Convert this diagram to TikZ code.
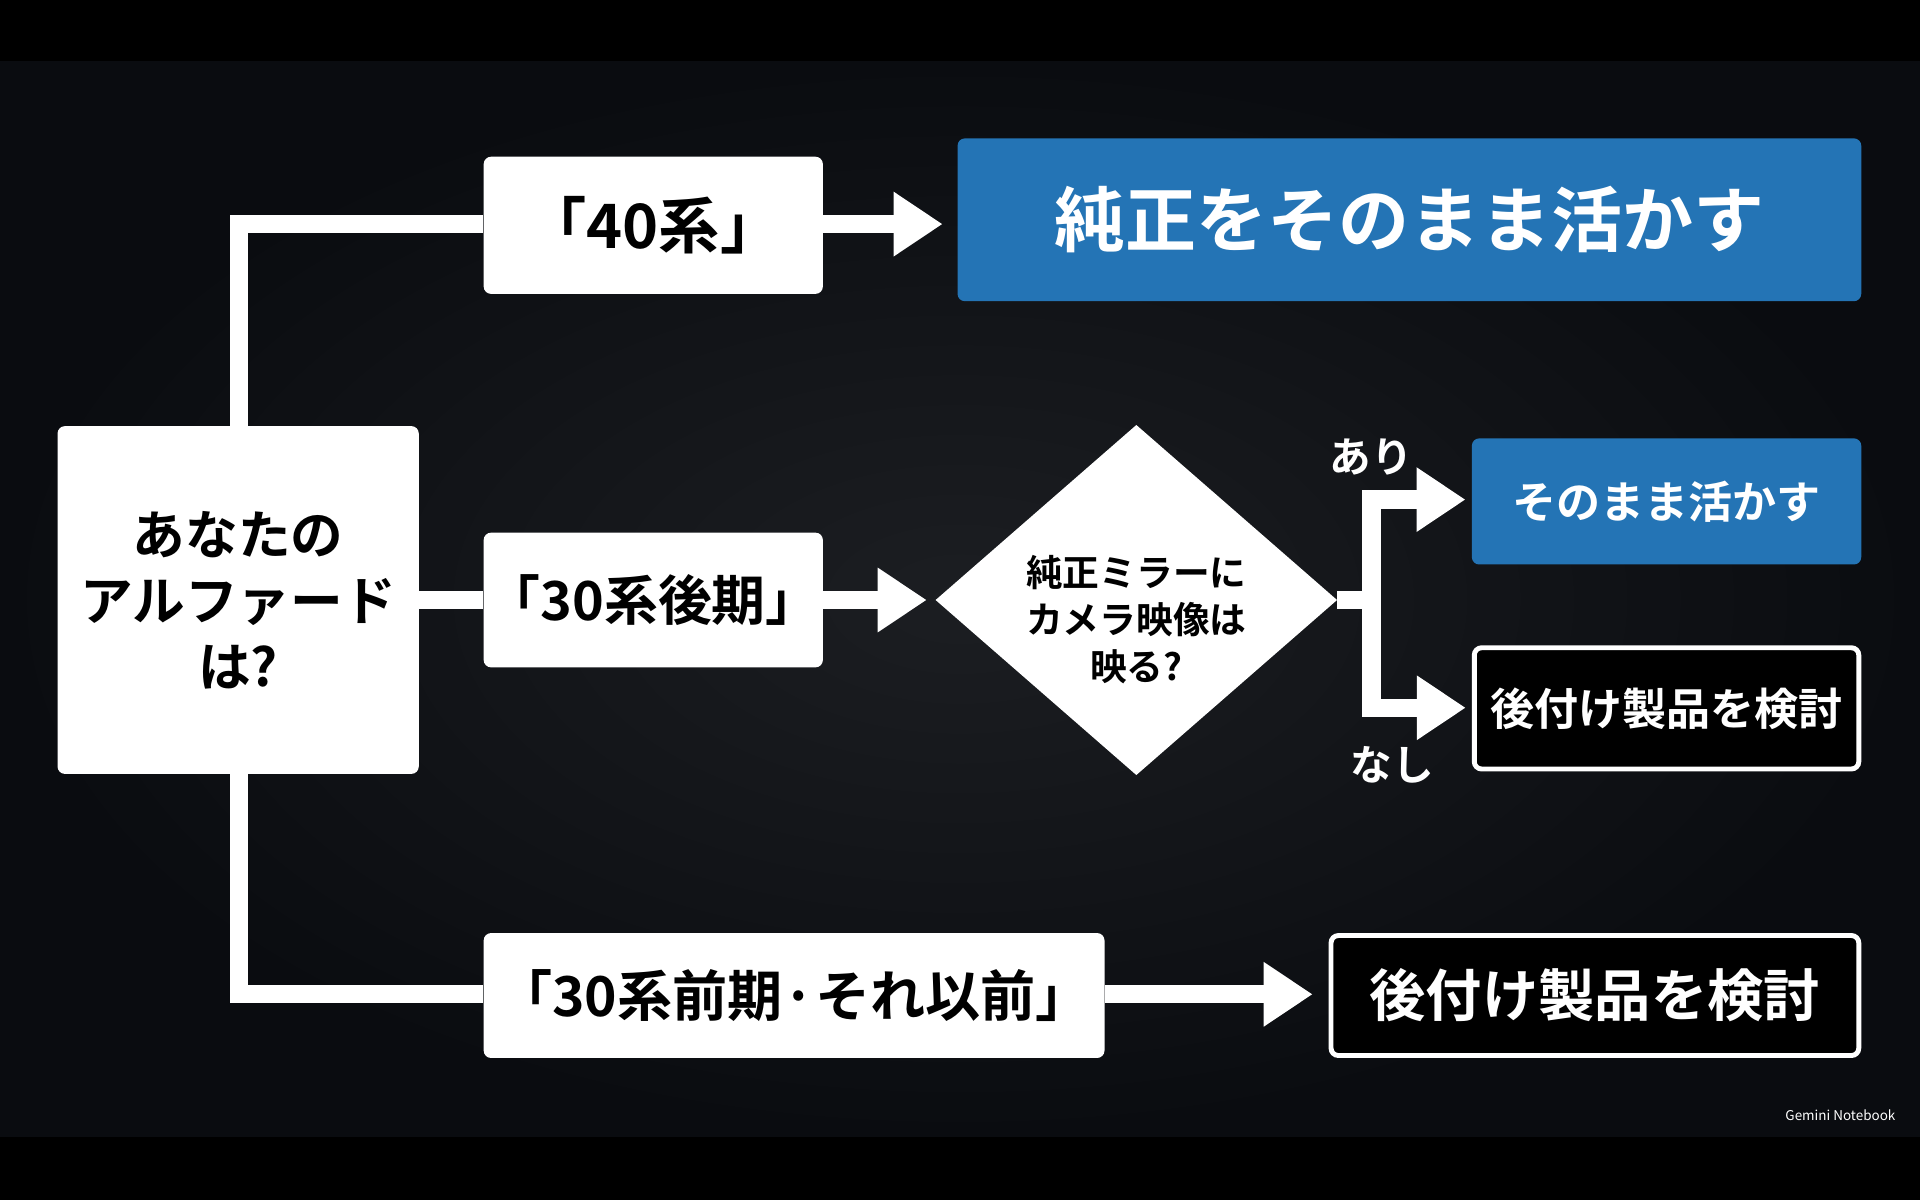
\documentclass[tikz,border=0pt]{standalone}
\usepackage{fontspec}
\setmainfont{Noto Sans CJK JP}[BoldFont={Noto Sans CJK JP Bold}]
\usetikzlibrary{arrows.meta,shapes.geometric}
\definecolor{bluebox}{HTML}{2474B5}
\begin{document}
\begin{tikzpicture}[x=1pt,y=-1pt,
  wbox/.style={draw=none,fill=white,rounded corners=6pt,text=black,font=\bfseries,align=center,inner sep=0},
  bbox/.style={fill=bluebox,rounded corners=6pt,text=white,font=\bfseries,align=center,inner sep=0},
  obox/.style={fill=black,draw=white,line width=4pt,rounded corners=6pt,text=white,font=\bfseries,align=center,inner sep=0},
  conn/.style={draw=white,line width=15pt},
  arr/.style={conn,-{Triangle[length=40pt,width=50pt]}},
  lbl/.style={text=white,font=\bfseries\fontsize{34}{40}\selectfont}]
\useasboundingbox (0,0) rectangle (1568,980);
\fill[black] (0,0) rectangle (1568,980);
\shade[inner color={rgb,255:red,28;green,30;blue,34}, outer color={rgb,255:red,10;green,12;blue,16}] (0,50) rectangle (1568,928);
% nodes
\node[wbox,minimum width=295pt,minimum height=284pt,font=\bfseries\fontsize{43}{54}\selectfont] (q) at (194.5,490) {あなたの\\アルファード\\は?};
\node[wbox,minimum width=277pt,minimum height=112pt,font=\bfseries\fontsize{50}{60}\selectfont] (a40) at (533.5,184) {「40系」};
\node[bbox,minimum width=738pt,minimum height=133pt,font=\bfseries\fontsize{58}{70}\selectfont] (r40) at (1151,179.5) {純正をそのまま活かす};
\node[wbox,minimum width=277pt,minimum height=110pt,font=\bfseries\fontsize{44}{56}\selectfont] (a30l) at (533.5,490) {「30系後期」};
\node[diamond,fill=white,minimum width=328pt,minimum height=286pt,inner sep=0,aspect=1.15] (d) at (928,490) {};
\node[text=black,align=center,font=\bfseries\fontsize{30}{38}\selectfont] (dt) at (928,506) {純正ミラーに\\カメラ映像は\\映る?};
\node[bbox,minimum width=318pt,minimum height=103pt,font=\bfseries\fontsize{36}{44}\selectfont] (ry) at (1361,409.5) {そのまま活かす};
\node[obox,minimum width=314pt,minimum height=99pt,font=\bfseries\fontsize{36}{44}\selectfont] (rn) at (1361,578.5) {後付け製品を検討};
\node[wbox,minimum width=507pt,minimum height=102pt,font=\bfseries\fontsize{45}{56}\selectfont] (a30e) at (648.5,813) {「30系前期·それ以前」};
\node[obox,minimum width=431pt,minimum height=98pt,font=\bfseries\fontsize{46}{56}\selectfont] (re) at (1302.5,813) {後付け製品を検討};
% coordinates
\coordinate (c1) at (195,183);
\coordinate (c2) at (195,812);
\coordinate (j) at (1120,490);
\coordinate (jy) at (1120,408);
\coordinate (jn) at (1120,578);
% connectors
\draw[conn] (q.north -| c1) -- (c1) -- (a40.west |- c1);
\draw[arr,shorten >=12pt] (a40.east |- c1) -- (r40.west |- c1);
\draw[conn] (q.east) -- (a30l.west);
\draw[arr,shorten >=7pt] (a30l.east) -- (d.west);
\draw[conn] (q.south -| c2) -- (c2) -- (a30e.west |- c2);
\draw[arr,shorten >=13pt] (a30e.east |- c2) -- (re.west |- c2);
\draw[conn] (d.east) -- (j);
\draw[conn,line cap=rect] (jy) -- (jn);
\draw[arr,shorten >=5pt] ([xshift=-7.5pt]jy) -- (ry.west |- jy);
\draw[arr,shorten >=5pt] ([xshift=-7.5pt]jn) -- (rn.west |- jn);
\node[lbl] (ly) at (1120,373) {あり};
\node[lbl] (ln) at (1137,625) {なし};
\node[text=white,font=\fontsize{11}{13}\selectfont] (gn) at (1503,911) {Gemini Notebook};
\end{tikzpicture}
\end{document}
